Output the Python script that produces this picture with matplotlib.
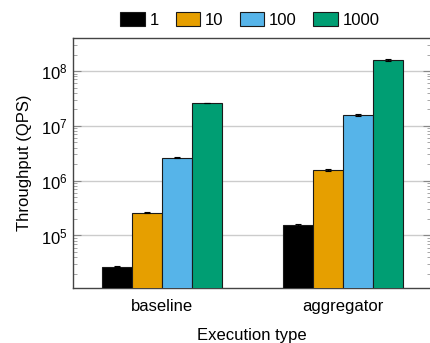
import numpy as np
import matplotlib
matplotlib.use("Agg")
import matplotlib.pyplot as plt
from matplotlib.ticker import LogLocator, NullFormatter

# Data
groups = ["baseline", "aggregator"]
series = ["1", "10", "100", "1000"]
baseline_qps = [2.7e4, 2.6e5, 2.6e6, 2.6e7]
aggregator_qps = [1.55e5, 1.55e6, 1.6e7, 1.6e8]
baseline_err = [0.04e4, 0.06e5, 0.05e6, 0.04e7]
aggregator_err = [0.06e5, 0.08e6, 0.06e7, 0.05e8]

colors = ["#000000", "#E69F00", "#56B4E9", "#009E73"]

plt.rcParams['font.family'] = ['Liberation Sans', 'DejaVu Sans']
plt.rcParams['font.size'] = 12

fig = plt.figure(figsize=(4.30, 3.43), dpi=100)
# axes runs slightly past the right edge like the reference crop
ax = fig.add_axes([73 / 430, 1 - 288 / 343, (431 - 73) / 430, (288 - 38) / 343])

x = np.arange(len(groups))
width = 0.166
values = np.array([baseline_qps, aggregator_qps]).T
errors = np.array([baseline_err, aggregator_err]).T

for i, name in enumerate(series):
    offs = (i - 1.5) * width
    ax.bar(x + offs, values[i], width, color=colors[i], edgecolor="#1a1a1a",
           linewidth=0.8, label=name, zorder=3,
           yerr=errors[i], capsize=2,
           error_kw=dict(ecolor="black", elinewidth=0.8, capthick=0.8, zorder=4))

ax.set_yscale("log")
ax.set_ylim(1.1e4, 4e8)
ax.set_xlim(-0.493, 1.485)
ax.set_xticks(x)
ax.set_xticklabels(groups)
ax.set_yticks([1e5, 1e6, 1e7, 1e8])
ax.yaxis.set_minor_locator(LogLocator(base=10, subs=np.arange(2, 10)))
ax.yaxis.set_minor_formatter(NullFormatter())

ax.tick_params(axis="x", length=0, pad=8)
ax.tick_params(axis="y", which="major", direction="in", length=6, color="#888888",
               left=True, right=True, pad=4)
ax.tick_params(axis="y", which="minor", direction="in", length=3, color="#999999",
               left=True, right=True)
ax.grid(axis="y", which="major", color="#cccccc", linewidth=1, zorder=0)

for side in ["top", "bottom", "left", "right"]:
    ax.spines[side].set_color("#444444")
    ax.spines[side].set_linewidth(1)

ax.set_ylabel("Throughput (QPS)", labelpad=6)
ax.set_xlabel("Execution type", labelpad=10)

fig.legend(loc="center", bbox_to_anchor=(250 / 430, 1 - 20 / 343), ncol=4,
           frameon=False, handlelength=1.45, handleheight=0.9,
           handletextpad=0.3, columnspacing=1.0, borderaxespad=0)

fig.savefig("out.png", dpi=100)
